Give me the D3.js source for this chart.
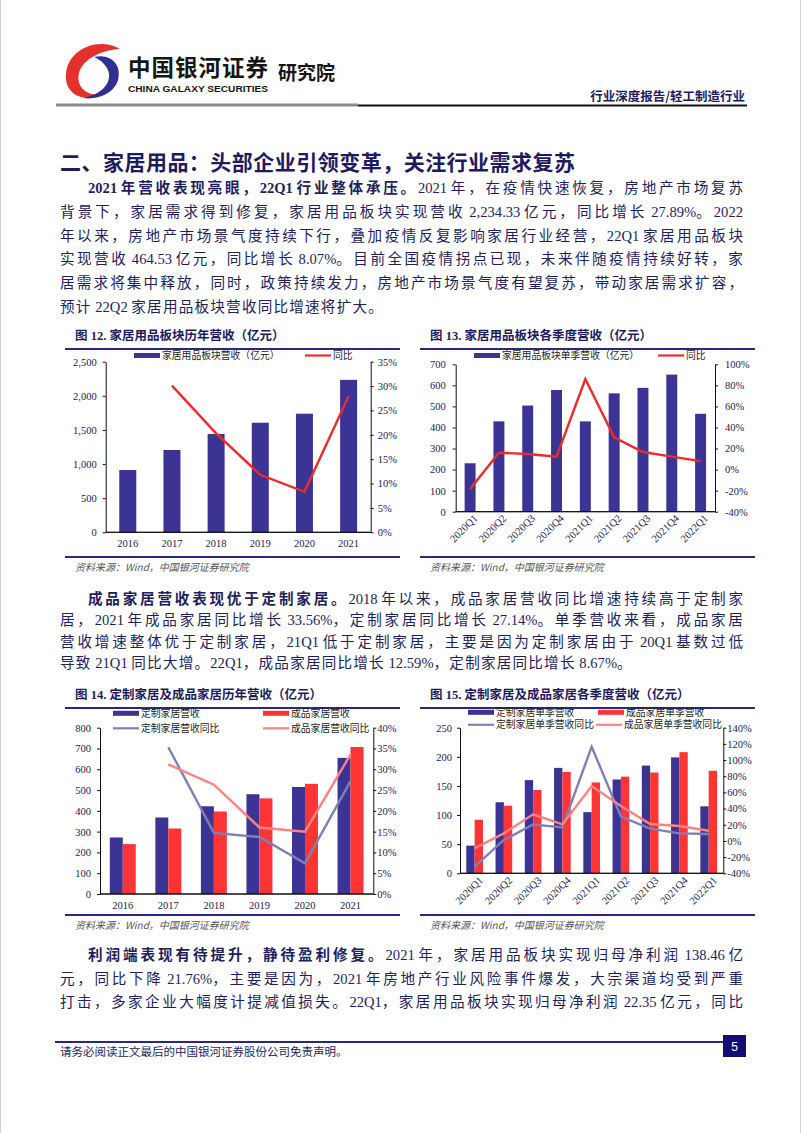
<!DOCTYPE html>
<html><head><meta charset="utf-8">
<script src="https://cdn.jsdelivr.net/npm/d3@7"></script>
<style>
html,body{margin:0;padding:0;background:#fff;}
svg{display:block;}
</style></head>
<body>
<svg id="page" width="802" height="1133"></svg>
<script>
// ---------------- DATA ----------------
const years = ["2016","2017","2018","2019","2020","2021"];
const homeRevenue = [913, 1206, 1440, 1606, 1738, 2234];
const homeYoY = [null, 30.1, 20.3, 11.8, 8.3, 27.89];

const quarters = ["2020Q1","2020Q2","2020Q3","2020Q4","2021Q1","2021Q2","2021Q3","2021Q4","2022Q1"];
const homeQRevenue = [230, 429, 504, 578, 429, 562, 588, 651, 465];
const homeQYoY = [-18.5, 16.0, 14.8, 12.3, 86.0, 30.6, 16.7, 12.3, 8.07];

const customRevenue = [272, 368, 422, 480, 515, 655];
const finishedRevenue = [240, 315, 397, 460, 530, 707];
const customYoY = [null, 35.3, 14.7, 13.7, 7.4, 27.14];
const finishedYoY = [null, 31.2, 26.3, 16.0, 15.0, 33.56];

const customQRevenue = [47.5, 122, 160, 181, 105, 161, 185, 199, 115];
const finishedQRevenue = [92, 116, 143, 174, 156, 166, 173, 208, 176];
const customQYoY = [-31.8, 1.2, 20.5, 16.8, 116.5, 30.0, 15.2, 9.4, 8.67];
const finishedQYoY = [-9.1, 9.4, 32.9, 20.5, 67.9, 43.2, 21.0, 18.5, 12.59];

const ticks12L = [0, 500, 1000, 1500, 2000, 2500];
const ticks12R = [0, 5, 10, 15, 20, 25, 30, 35];
const ticks13L = [0, 100, 200, 300, 400, 500, 600, 700];
const ticks13R = [-40, -20, 0, 20, 40, 60, 80, 100];
const ticks14L = [0, 100, 200, 300, 400, 500, 600, 700, 800];
const ticks14R = [0, 5, 10, 15, 20, 25, 30, 35, 40];
const ticks15L = [0, 50, 100, 150, 200, 250];
const ticks15R = [-40, -20, 0, 20, 40, 60, 80, 100, 120, 140];

// ---------------- STYLE ----------------
const NAVY = "#2B2680";
const BAR_BLUE = "#3B3494";
const BAR_RED = "#FF3434";
const LINE_RED = "#EE2B2B";
const LINE_PURPLE = "#8080B6";
const LINE_PINK = "#FF8282";
const TEXT = "#221E5C";
const SERIF = "'Liberation Serif','Noto Sans CJK SC',serif";
const CJK = "'Noto Sans CJK SC','Liberation Sans',sans-serif";

const svg = d3.select("#page");

// page frame
svg.append("line").attr("x1",0.5).attr("x2",0.5).attr("y1",0).attr("y2",1133).attr("stroke","#d0d0d0");
svg.append("line").attr("x1",800.5).attr("x2",800.5).attr("y1",0).attr("y2",1133).attr("stroke","#d0d0d0");

// ---------------- HEADER ----------------
const hdr = svg.append("g");
hdr.append("path").attr("fill","#E2322B")
  .attr("d","M120 49 C98 36 64 50 66 79 C67 95 84 102 100 95 C85 95 76 86 79 73 C83 59 101 50 120 49 Z");
hdr.append("path").attr("fill","#2E3192")
  .attr("d","M94 57 C112 53 122 66 118 80 C114 94 97 100 83 98 C99 95 110 86 109 74 C108 66 101 60 94 57 Z");
hdr.append("text").attr("x",128).attr("y",75.5).attr("font-family",CJK).attr("font-weight","bold")
  .attr("font-size",22.5).attr("fill","#151515").attr("textLength",140).text("中国银河证券");
hdr.append("text").attr("x",278).attr("y",80).attr("font-family",CJK).attr("font-weight","bold")
  .attr("font-size",19).attr("fill","#151515").text("研究院");
hdr.append("text").attr("x",128).attr("y",91.5).attr("font-family","'Liberation Sans',sans-serif").attr("font-weight","bold")
  .attr("font-size",9.5).attr("fill","#151515").attr("textLength",140).attr("lengthAdjust","spacingAndGlyphs")
  .text("CHINA GALAXY SECURITIES");
hdr.append("text").attr("x",745).attr("y",101).attr("text-anchor","end").attr("font-family",CJK).attr("font-weight","bold")
  .attr("font-size",12.5).attr("fill","#1E1A5E").text("行业深度报告/轻工制造行业");
hdr.append("line").attr("x1",56).attr("x2",358).attr("y1",105).attr("y2",105).attr("stroke","#8a8a8a").attr("stroke-width",3);
hdr.append("line").attr("x1",358).attr("x2",747).attr("y1",105.5).attr("y2",105.5).attr("stroke","#111").attr("stroke-width",2);

// ---------------- HEADING ----------------
svg.append("text").attr("x",60).attr("y",170).attr("font-family",CJK).attr("font-weight","bold")
  .attr("font-size",21).attr("fill","#1F1A5E").attr("textLength",515)
  .text("二、家居用品：头部企业引领变革，关注行业需求复苏");

// ---------------- PARAGRAPHS ----------------
const CJK_RE = /([\u3000-\u303f\u3400-\u9fff\uff00-\uffef]+)/;
function para(lines, startY, gap) {
  lines.forEach((ln, i) => {
    const x0 = i === 0 ? 88 : 60;
    const t = svg.append("text").attr("x", x0).attr("y", startY + i*gap)
      .attr("font-family", SERIF).attr("font-size", 14.6).attr("fill", TEXT);
    const segs = [];
    if (ln.bold) segs.push({s: ln.bold, b: true});
    segs.push({s: ln.text, b: false});
    const cjkSpans = [];
    let cjkCount = 0, lastIsCJK = false;
    segs.forEach(sg => {
      sg.s.split(CJK_RE).filter(p => p.length).forEach(p => {
        const sp = t.append("tspan").text(p);
        if (sg.b) sp.attr("font-weight", "bold");
        if (CJK_RE.test(p)) { cjkSpans.push(sp); cjkCount += p.length; lastIsCJK = true; }
        else lastIsCJK = false;
      });
    });
    if (ln.justify !== false) {
      const nat = t.node().getComputedTextLength();
      const denom = cjkCount - (lastIsCJK ? 1 : 0);
      const ls = (743 - x0 - nat) / denom;
      cjkSpans.forEach(sp => sp.attr("letter-spacing", ls));
    } else {
      cjkSpans.forEach(sp => sp.attr("letter-spacing", 1.2));
    }
  });
}
para([
  {bold:"2021 年营收表现亮眼，22Q1 行业整体承压。", text:"2021 年，在疫情快速恢复，房地产市场复苏"},
  {text:"背景下，家居需求得到修复，家居用品板块实现营收 2,234.33 亿元，同比增长 27.89%。2022"},
  {text:"年以来，房地产市场景气度持续下行，叠加疫情反复影响家居行业经营，22Q1 家居用品板块"},
  {text:"实现营收 464.53 亿元，同比增长 8.07%。目前全国疫情拐点已现，未来伴随疫情持续好转，家"},
  {text:"居需求将集中释放，同时，政策持续发力，房地产市场景气度有望复苏，带动家居需求扩容，"},
  {text:"预计 22Q2 家居用品板块营收同比增速将扩大。", justify:false}
], 193, 23.8);
para([
  {bold:"成品家居营收表现优于定制家居。", text:"2018 年以来，成品家居营收同比增速持续高于定制家"},
  {text:"居，2021 年成品家居同比增长 33.56%，定制家居同比增长 27.14%。单季营收来看，成品家居"},
  {text:"营收增速整体优于定制家居，21Q1 低于定制家居，主要是因为定制家居由于 20Q1 基数过低"},
  {text:"导致 21Q1 同比大增。22Q1，成品家居同比增长 12.59%，定制家居同比增长 8.67%。", justify:false}
], 604, 21.3);
para([
  {bold:"利润端表现有待提升，静待盈利修复。", text:"2021 年，家居用品板块实现归母净利润 138.46 亿"},
  {text:"元，同比下降 21.76%，主要是因为，2021 年房地产行业风险事件爆发，大宗渠道均受到严重"},
  {text:"打击，多家企业大幅度计提减值损失。22Q1，家居用品板块实现归母净利润 22.35 亿元，同比"}
], 960, 23.5);

// ---------------- CHART HELPERS ----------------
function frame(x0, x1, titleY, title, bottomY) {
  svg.append("text").attr("x", x0+10).attr("y", titleY).attr("font-family", SERIF).attr("font-weight","bold")
    .attr("font-size", 12.5).attr("fill", "#1E1A5E").text(title);
  svg.append("line").attr("x1", x0).attr("x2", x1).attr("y1", titleY+9.5).attr("y2", titleY+9.5)
    .attr("stroke", NAVY).attr("stroke-width", 2);
  svg.append("line").attr("x1", x0).attr("x2", x1).attr("y1", bottomY).attr("y2", bottomY)
    .attr("stroke", NAVY).attr("stroke-width", 2);
  svg.append("text").attr("x", x0+10).attr("y", bottomY+14).attr("font-family", CJK).attr("font-style","italic")
    .attr("font-size", 10).attr("fill", "#555")
    .text("资料来源：Wind，中国银河证券研究院");
}

const LEG_FS = 9.8;
function legendBar(x, y, color, label) {
  svg.append("rect").attr("x", x).attr("y", y-2.5).attr("width", 26).attr("height", 5).attr("fill", color);
  svg.append("text").attr("x", x+28).attr("y", y+3.6).attr("font-family", CJK).attr("font-size", LEG_FS)
    .attr("fill", "#222").text(label);
}
function legendLine(x, y, color, label) {
  svg.append("line").attr("x1", x).attr("x2", x+26).attr("y1", y).attr("y2", y).attr("stroke", color).attr("stroke-width", 2.2);
  svg.append("text").attr("x", x+28).attr("y", y+3.6).attr("font-family", CJK).attr("font-size", LEG_FS)
    .attr("fill", "#222").text(label);
}

function combo(c) {
  const g = svg.append("g");
  const x = d3.scaleBand().domain(c.cats).range([c.x0, c.x1]).paddingInner(c.pad).paddingOuter(c.pad/2);
  const yL = d3.scaleLinear().domain(c.lDom).range([c.y1, c.y0]);
  const yR = d3.scaleLinear().domain(c.rDom).range([c.y1, c.y0]);
  const sub = d3.scaleBand().domain(d3.range(c.bars.length)).range([0, x.bandwidth()]);

  c.bars.forEach((b, bi) => {
    g.append("g").selectAll("rect").data(b.values).join("rect")
      .attr("x", (d, i) => x(c.cats[i]) + sub(bi))
      .attr("width", sub.bandwidth())
      .attr("y", d => yL(d))
      .attr("height", d => yL(0) - yL(d))
      .attr("fill", b.color);
  });

  const fontAttrs = s => s.attr("font-family", SERIF).attr("font-size", 10.5).attr("fill", "#1a1a50");

  const aL = g.append("g").attr("transform", `translate(${c.x0},0)`)
    .call(d3.axisLeft(yL).tickValues(c.lTicks).tickFormat(c.lFmt).tickSize(3).tickSizeOuter(0).tickPadding(c.lPad));
  const aR = g.append("g").attr("transform", `translate(${c.x1},0)`)
    .call(d3.axisRight(yR).tickValues(c.rTicks).tickFormat(d => d + "%").tickSize(3).tickSizeOuter(0).tickPadding(c.rPad));
  [aL, aR].forEach(a => {
    a.select(".domain").attr("stroke", "#111");
    a.selectAll(".tick line").attr("stroke", "#111");
    a.selectAll("text").call(fontAttrs);
  });
  g.append("line").attr("x1", c.x0).attr("x2", c.x1).attr("y1", yL(0)).attr("y2", yL(0)).attr("stroke", "#111");
  g.append("line").attr("x1", c.x0).attr("x2", c.x1).attr("y1", c.y1).attr("y2", c.y1).attr("stroke", "#111");

  const labs = g.append("g").selectAll("text").data(c.cats).join("text").call(fontAttrs).text(d => d);
  if (c.rotate) {
    labs.attr("text-anchor", "end")
      .attr("transform", d => `translate(${x(d) + x.bandwidth()/2 + c.rdx},${c.labelY}) rotate(-45)`);
  } else {
    labs.attr("text-anchor", "middle").attr("x", d => x(d) + x.bandwidth()/2).attr("y", c.labelY);
  }

  c.lines.forEach(l => {
    const line = d3.line().defined(d => d != null)
      .x((d, i) => x(c.cats[i]) + x.bandwidth()/2).y(d => yR(d));
    g.append("path").datum(l.values).attr("d", line).attr("fill", "none")
      .attr("stroke", l.color).attr("stroke-width", l.width || 2.4).attr("stroke-linejoin", "miter");
  });
}

// ---------------- CHART 12 ----------------
frame(65, 400, 339.5, "图 12. 家居用品板块历年营收（亿元）", 557);
legendBar(134, 355.5, BAR_BLUE, "家居用品板块营收（亿元）");
legendLine(305, 355.5, LINE_RED, "同比");
combo({cats: years, x0: 105.7, x1: 370.7, y0: 361.7, y1: 532.3, pad: 0.615,
  lDom: [0, 2500], rDom: [0, 35], lTicks: ticks12L, rTicks: ticks12R, lFmt: d3.format(","),
  lPad: 6, rPad: 4, labelY: 547,
  bars: [{values: homeRevenue, color: BAR_BLUE}],
  lines: [{values: homeYoY, color: LINE_RED}]});

// ---------------- CHART 13 ----------------
frame(420, 755, 339.5, "图 13. 家居用品板块各季度营收（亿元）", 557);
legendBar(474, 355.5, BAR_BLUE, "家居用品板块单季营收（亿元）");
legendLine(658, 355.5, LINE_RED, "同比");
combo({cats: quarters, x0: 455.7, x1: 715, y0: 364.3, y1: 511.7, pad: 0.62,
  lDom: [0, 700], rDom: [-40, 100], lTicks: ticks13L, rTicks: ticks13R, lFmt: d3.format("d"),
  lPad: 7, rPad: 7, labelY: 519, rotate: true, rdx: 8,
  bars: [{values: homeQRevenue, color: BAR_BLUE}],
  lines: [{values: homeQYoY, color: LINE_RED}]});

// ---------------- CHART 14 ----------------
frame(65, 400, 698.5, "图 14. 定制家居及成品家居历年营收（亿元）", 915);
legendBar(113, 713.3, BAR_BLUE, "定制家居营收");
legendBar(263, 713.3, BAR_RED, "成品家居营收");
legendLine(113, 728.3, LINE_PURPLE, "定制家居营收同比");
legendLine(263, 728.3, LINE_PINK, "成品家居营收同比");
combo({cats: years, x0: 100, x1: 373.3, y0: 727.7, y1: 894, pad: 0.43,
  lDom: [0, 800], rDom: [0, 40], lTicks: ticks14L, rTicks: ticks14R, lFmt: d3.format("d"),
  lPad: 6, rPad: 1, labelY: 909,
  bars: [{values: customRevenue, color: BAR_BLUE}, {values: finishedRevenue, color: BAR_RED}],
  lines: [{values: customYoY, color: LINE_PURPLE}, {values: finishedYoY, color: LINE_PINK}]});

// ---------------- CHART 15 ----------------
frame(420, 755, 698.5, "图 15. 定制家居及成品家居各季度营收（亿元）", 915);
legendBar(468, 712.3, BAR_BLUE, "定制家居单季营收");
legendBar(598, 712.3, BAR_RED, "成品家居单季营收");
legendLine(468, 724.8, LINE_PURPLE, "定制家居单季营收同比");
legendLine(596, 724.8, LINE_PINK, "成品家居单季营收同比");
combo({cats: quarters, x0: 460, x1: 723.3, y0: 727.7, y1: 873.3, pad: 0.43,
  lDom: [0, 250], rDom: [-40, 140], lTicks: ticks15L, rTicks: ticks15R, lFmt: d3.format("d"),
  lPad: 5, rPad: 1, labelY: 881, rotate: true, rdx: 9,
  bars: [{values: customQRevenue, color: BAR_BLUE}, {values: finishedQRevenue, color: BAR_RED}],
  lines: [{values: customQYoY, color: LINE_PURPLE}, {values: finishedQYoY, color: LINE_PINK}]});

// ---------------- FOOTER ----------------
svg.append("line").attr("x1", 55).attr("x2", 746).attr("y1", 1042).attr("y2", 1042).attr("stroke", NAVY).attr("stroke-width", 2);
svg.append("text").attr("x", 60).attr("y", 1056).attr("font-family", CJK).attr("font-size", 11.5).attr("fill", TEXT)
  .text("请务必阅读正文最后的中国银河证券股份公司免责声明。");
svg.append("rect").attr("x", 723).attr("y", 1035).attr("width", 23).attr("height", 22).attr("fill", "#140C73");
svg.append("text").attr("x", 734.5).attr("y", 1051).attr("text-anchor", "middle").attr("font-family", "'Liberation Sans',sans-serif")
  .attr("font-size", 12).attr("fill", "#fff").text("5");
</script>
</body></html>
